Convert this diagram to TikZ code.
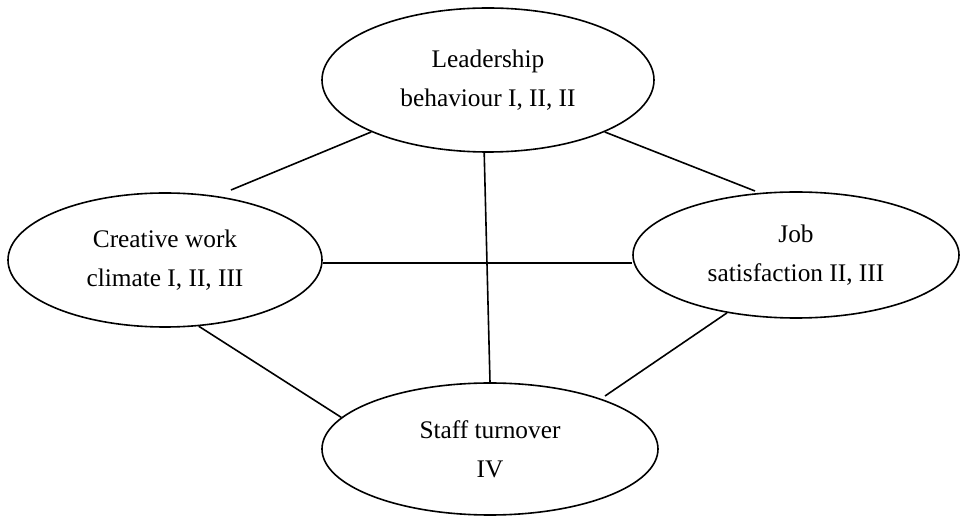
\documentclass[tikz,border=0pt]{standalone}
\usepackage{fontspec}
\setmainfont{Liberation Serif}
\usetikzlibrary{shapes.geometric}
\begin{document}
\begin{tikzpicture}[x=0.75pt, y=-0.75pt,
  concept/.style={ellipse, draw, line width=1.2pt, inner sep=0pt,
    align=center, font=\fontsize{19}{29.5}\selectfont},
  link/.style={line width=1.2pt}]
  \useasboundingbox (0,0) rectangle (961,516);

  % the four concepts
  \node[concept, minimum width=332*0.75pt, minimum height=144*0.75pt] (lead) at (488,80)
    {Leadership\\behaviour I, II, II};
  \node[concept, minimum width=314*0.75pt, minimum height=134*0.75pt] (climate) at (165,260)
    {Creative work\\climate I, II, III};
  \node[concept, minimum width=326*0.75pt, minimum height=126*0.75pt] (job) at (796,255)
    {Job\\satisfaction II, III};
  \node[concept, minimum width=336*0.75pt, minimum height=132*0.75pt] (staff) at (490,449)
    {Staff turnover\\IV};

  % loose ends of the links that stop short of an ellipse
  \coordinate (leadL) at (231,190);
  \coordinate (leadR) at (755,191);
  \coordinate (staffR) at (605,396);

  % links
  \draw[link] (lead.204.7) -- (leadL);
  \draw[link] (lead.336.6) -- (leadR);
  \draw[link] (lead.267.6) -- (staff.90);
  \draw[link] (climate.359) -- (climate.359 -| job.west);
  \draw[link] (climate.297.6) -- (staff.168.3);
  \draw[link] (job.220.4) -- (staffR);
\end{tikzpicture}
\end{document}
